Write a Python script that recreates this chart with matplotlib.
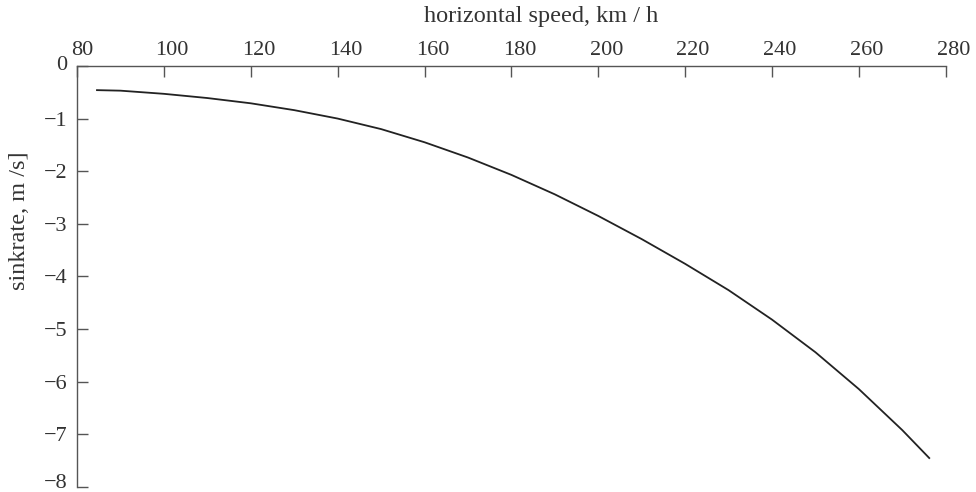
import matplotlib
matplotlib.use('Agg')
import matplotlib.pyplot as plt
from matplotlib.transforms import ScaledTranslation

# horizontal speed (km/h) vs sink rate (m/s)
speed = [84.6, 90, 100, 110, 120, 130, 140, 150, 160, 170, 180, 190, 200,
         210, 220, 230, 240, 250, 260, 270, 276.2]
sink = [-0.46, -0.47, -0.53, -0.61, -0.71, -0.84, -1.00, -1.20, -1.45, -1.74,
        -2.07, -2.44, -2.85, -3.29, -3.76, -4.26, -4.82, -5.44, -6.14, -6.92, -7.45]
xticks = [80, 100, 120, 140, 160, 180, 200, 220, 240, 260, 280]
yticks = [0, -1, -2, -3, -4, -5, -6, -7, -8]

plt.rcParams['font.family'] = ['Liberation Serif', 'DejaVu Serif']
plt.rcParams['font.size'] = 16

fig = plt.figure(figsize=(9.76, 4.92), dpi=100)
ax = fig.add_axes([0.0789, 0.0102, 0.969 - 0.0789, 0.866 - 0.0102])

ax.plot(speed, sink, color='#222222', linewidth=1.3)

ax.set_xlim(80, 280)
ax.set_ylim(-8, 0)
ax.set_xticks(xticks)
ax.set_yticks(yticks)

ax.spines['right'].set_visible(False)
ax.spines['bottom'].set_visible(False)
for s in ['top', 'left']:
    ax.spines[s].set_color('#555555')
    ax.spines[s].set_linewidth(1.0)

ax.xaxis.tick_top()
ax.xaxis.set_label_position('top')
ax.tick_params(axis='both', direction='in', length=8, width=1.0, color='#555555',
               labelcolor='#333333')
ax.tick_params(axis='x', pad=4)
ax.tick_params(axis='y', pad=7)

# tick labels sit a little right of their ticks in the reference
shift = ScaledTranslation(8 / 100, 0, fig.dpi_scale_trans)
xlabs = ax.get_xticklabels()
for lab in xlabs:
    lab.set_transform(lab.get_transform() + shift)
xlabs[0].set_transform(xlabs[0].get_transform() + ScaledTranslation(-3 / 100, 0, fig.dpi_scale_trans))
ylabs = ax.get_yticklabels()
ylabs[0].set_transform(ylabs[0].get_transform() + ScaledTranslation(0, 3 / 100, fig.dpi_scale_trans))
ylabs[-1].set_transform(ylabs[-1].get_transform() + ScaledTranslation(0, 6 / 100, fig.dpi_scale_trans))

ax.set_xlabel('horizontal speed, km / h', color='#333333', fontsize=17.5)
ax.xaxis.set_label_coords(0.534, 1.1045)
ax.xaxis.label.set_va('baseline')
ax.set_ylabel('sinkrate, m /s]', color='#333333', fontsize=17.5)
ax.yaxis.set_label_coords(-0.0667, 0.632)
ax.yaxis.label.set_va('center')
ax.yaxis.label.set_ha('center')

fig.savefig('out.png', dpi=100)
